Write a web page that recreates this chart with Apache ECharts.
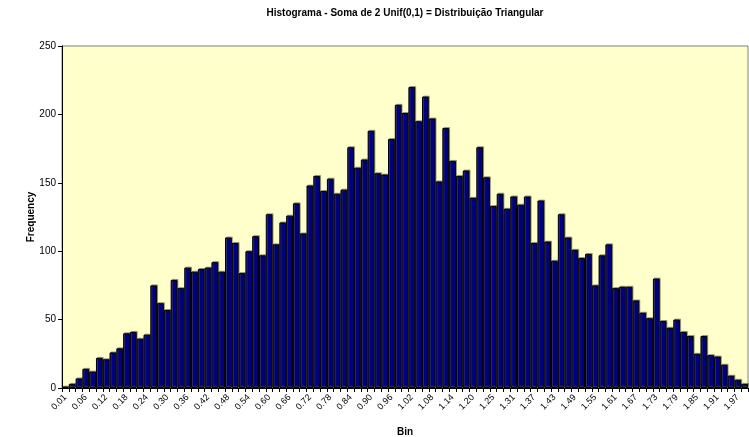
<!DOCTYPE html>
<html>
<head>
<meta charset="utf-8">
<script src="https://cdn.jsdelivr.net/npm/echarts@6/dist/echarts.min.js"></script>
<style>
  html, body { margin: 0; padding: 0; background: #fff; }
  #chart { width: 749px; height: 437px; }
</style>
</head>
<body>
<div id="chart"></div>
<script>
// bins (limite superior de cada classe)
const bins = [
  '0.01','0.03','0.04','0.06','0.08','0.10','0.12','0.14','0.16','0.18',
  '0.20','0.22','0.24','0.26','0.28','0.30','0.32','0.34','0.36','0.38',
  '0.40','0.42','0.44','0.46','0.48','0.50','0.52','0.54','0.56','0.58',
  '0.60','0.62','0.64','0.66','0.68','0.70','0.72','0.74','0.76','0.78',
  '0.80','0.82','0.84','0.86','0.88','0.90','0.92','0.94','0.96','0.98',
  '1.00','1.02','1.04','1.06','1.08','1.10','1.12','1.14','1.16','1.18',
  '1.20','1.21','1.23','1.25','1.27','1.29','1.31','1.33','1.35','1.37',
  '1.39','1.41','1.43','1.45','1.47','1.49','1.51','1.53','1.55','1.57',
  '1.59','1.61','1.63','1.65','1.67','1.69','1.71','1.73','1.75','1.77',
  '1.79','1.81','1.83','1.85','1.87','1.89','1.91','1.93','1.95','1.97',
  '1.99'
]

// frequencias
const frequency = [
  1, 3, 7, 14, 12, 22, 21, 26, 29, 40,
  41, 36, 39, 75, 62, 57, 79, 73, 88, 85,
  87, 88, 92, 85, 110, 106, 84, 100, 111, 97,
  127, 105, 121, 126, 135, 113, 148, 155, 144, 153,
  142, 145, 176, 161, 167, 188, 157, 156, 182, 207,
  201, 220, 195, 213, 197, 151, 190, 166, 155, 159,
  139, 176, 154, 133, 142, 131, 140, 134, 140, 106,
  137, 107, 93, 127, 110, 101, 95, 98, 75, 97,
  105, 73, 74, 74, 64, 55, 51, 80, 49, 44,
  50, 41, 38, 25, 38, 24, 23, 17, 9, 6,
  3
]

const yTicks = [0, 50, 100, 150, 200, 250]

const chart = echarts.init(document.getElementById('chart'))
const font = 'Liberation Sans, Arial, sans-serif'

chart.setOption({
  animation: false,
  textStyle: { fontFamily: font },
  title: {
    text: 'Histograma - Soma de 2 Unif(0,1) = Distribuição Triangular',
    left: 400, top: 3, textAlign: 'center',
    textStyle: { fontSize: 10, fontWeight: 'bold', color: '#000', fontFamily: font }
  },
  grid: {
    left: 62, right: 1, top: 46, bottom: 49,
    outerBoundsMode: 'none',
    containLabel: false,
    show: true, backgroundColor: '#FFFFCC', borderColor: '#808080', borderWidth: 1
  },
  xAxis: {
    type: 'category',
    data: bins,
    name: 'Bin',
    nameLocation: 'middle',
    nameGap: 39,
    nameMoveOverlap: false,
    nameTextStyle: { fontSize: 10, fontWeight: 'bold', color: '#000', fontFamily: font },
    axisLine: { lineStyle: { color: '#000', width: 1 } },
    axisTick: { show: true, interval: 0, length: 4, lineStyle: { color: '#000' } },
    axisLabel: {
      interval: 2, rotate: 45, fontSize: 9, color: '#000', margin: 8, fontFamily: font
    },
    splitLine: { show: false }
  },
  yAxis: {
    type: 'value',
    min: yTicks[0], max: yTicks[yTicks.length - 1], interval: 50,
    name: 'Frequency',
    nameLocation: 'middle',
    nameGap: 26,
    nameMoveOverlap: false,
    nameTextStyle: { fontSize: 10, fontWeight: 'bold', color: '#000', fontFamily: font },
    axisLine: { show: true, lineStyle: { color: '#000', width: 1 } },
    axisTick: { show: true, length: 4, lineStyle: { color: '#000' } },
    axisLabel: { fontSize: 10, color: '#000', margin: 6, fontFamily: font },
    splitLine: { show: false }
  },
  series: [{
    type: 'bar',
    data: frequency,
    barCategoryGap: 0,
    itemStyle: {
      color: '#000080',
      borderColor: '#000',
      borderWidth: 1,
      shadowColor: 'rgba(90,90,60,0.5)',
      shadowOffsetX: 1,
      shadowOffsetY: -1
    }
  }]
})
</script>
</body>
</html>
